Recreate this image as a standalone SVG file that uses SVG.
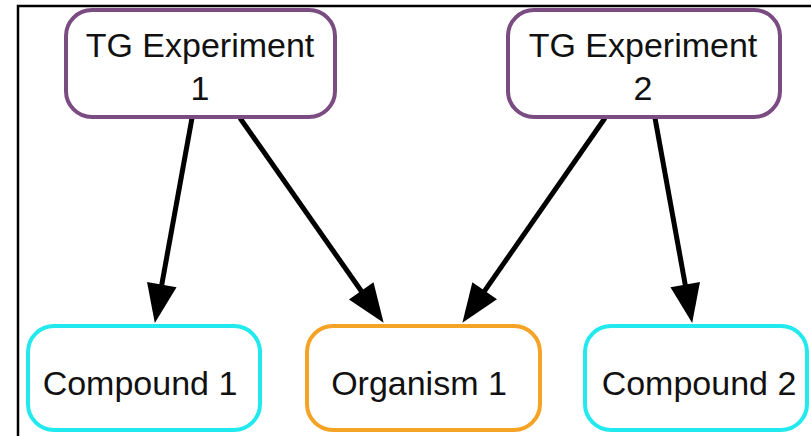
<svg xmlns="http://www.w3.org/2000/svg" width="811" height="436" viewBox="0 0 811 436">
<style>
.box{fill:#fff;stroke-width:4}
.exp{stroke:#7b4c82}
.cmp{stroke:#22e9ee}
.org{stroke:#f5a325}
.lbl{font-family:"Liberation Sans",Arial,sans-serif;font-size:34px;fill:#111;text-anchor:middle}
.edge{stroke:#000;stroke-width:5;fill:none;marker-end:url(#ah)}
</style>
<defs>
<marker id="ah" markerUnits="userSpaceOnUse" markerWidth="42" markerHeight="32" refX="0" refY="15" orient="auto" overflow="visible">
<path d="M-1,0 L38,15 L-1,30 z" fill="#000"/>
</marker>
</defs>
<rect x="0" y="0" width="811" height="436" fill="#fff"/>
<path d="M18,436 V6 H811" fill="none" stroke="#000" stroke-width="2.5"/>
<g id="connectors">
<line class="edge" x1="192" y1="118" x2="161.6" y2="285.6"/>
<line class="edge" x1="240" y1="118" x2="361.8" y2="291.7"/>
<line class="edge" x1="605" y1="118" x2="484.1" y2="291.6"/>
<line class="edge" x1="655" y1="118" x2="685.4" y2="285.6"/>
</g>
<g id="tg1">
<rect class="box exp" x="66" y="10" width="269" height="107" rx="26"/>
<text class="lbl" x="200" y="57">TG Experiment</text>
<text class="lbl" x="200" y="100">1</text>
</g>
<g id="tg2">
<rect class="box exp" x="508" y="10" width="272" height="107" rx="26"/>
<text class="lbl" x="643" y="57">TG Experiment</text>
<text class="lbl" x="643" y="100">2</text>
</g>
<g id="compound1">
<rect class="box cmp" x="28" y="326" width="232" height="104" rx="26"/>
<text class="lbl" x="140" y="395">Compound 1</text>
</g>
<g id="organism1">
<rect class="box org" x="307" y="326" width="233" height="104" rx="26"/>
<text class="lbl" x="419" y="395">Organism 1</text>
</g>
<g id="compound2">
<rect class="box cmp" x="585" y="326" width="222" height="104" rx="26"/>
<text class="lbl" x="699" y="395">Compound 2</text>
</g>
</svg>
